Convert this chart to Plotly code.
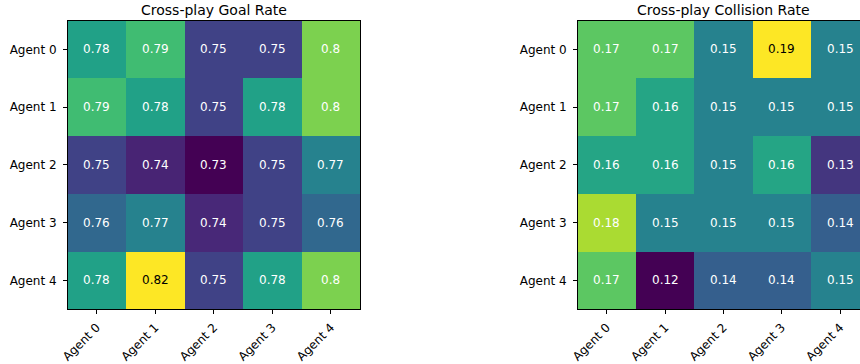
import plotly.graph_objects as go

agents = ["Agent 0", "Agent 1", "Agent 2", "Agent 3", "Agent 4"]

goal_rate = [
    [0.781, 0.792, 0.748, 0.748, 0.802],
    [0.792, 0.781, 0.748, 0.781, 0.802],
    [0.748, 0.739, 0.730, 0.748, 0.770],
    [0.760, 0.770, 0.740, 0.748, 0.760],
    [0.781, 0.820, 0.748, 0.781, 0.802],
]

collision_rate = [
    [0.172, 0.172, 0.151, 0.190, 0.151],
    [0.172, 0.161, 0.151, 0.151, 0.151],
    [0.161, 0.161, 0.151, 0.161, 0.131],
    [0.181, 0.151, 0.151, 0.151, 0.141],
    [0.172, 0.120, 0.141, 0.141, 0.151],
]

titles = ["Cross-play Goal Rate", "Cross-play Collision Rate"]

W, H = 860, 364
FONT = "DejaVu Sans"
TICK = 12
TITLE = 14

fig = go.Figure()

idx = list(range(len(agents)))
panels = [
    (goal_rate, "x", "y", [61 / W, 356 / W], [-0.5, 4.5], True),
    (collision_rate, "x2", "y2", [575.3 / W, 1.0], [-0.5, 4.5 - (869.3 - 860) / 58.8], False),
]
ydom = [1 - 315.3 / H, 1 - 21 / H]

for k, (z, xa, ya, xdom, xr, mir) in enumerate(panels):
    flat = [v for row in z for v in row]
    zmin, zmax = min(flat), max(flat)
    fig.add_trace(go.Heatmap(
        z=z, x=idx, y=idx, colorscale="Viridis", zmin=zmin, zmax=zmax,
        showscale=False, xaxis=xa, yaxis=ya, hoverinfo="z",
    ))
    for i, row in enumerate(z):
        for j, v in enumerate(row):
            frac = (v - zmin) / (zmax - zmin)
            fig.add_annotation(
                x=j, y=i, xref=xa, yref=ya, text=str(round(v, 2)), showarrow=False,
                font=dict(family=FONT, size=TICK, color="black" if frac > 0.9 else "white"),
            )
    axname = "xaxis" if k == 0 else "xaxis2"
    yname = "yaxis" if k == 0 else "yaxis2"
    fig.update_layout(**{
        axname: dict(
            domain=xdom, range=xr, anchor=ya, tickvals=idx, ticktext=agents,
            tickangle=-45, ticks="outside", ticklen=3.5, tickwidth=0.8, tickcolor="black",
            ticklabelstandoff=2,
            showline=True, linecolor="black", linewidth=1, mirror=True,
            showgrid=False, zeroline=False, tickfont=dict(family=FONT, size=TICK, color="black"),
        ),
        yname: dict(
            domain=ydom, range=[4.5, -0.5], anchor=xa, tickvals=idx, ticktext=agents,
            ticks="outside", ticklen=3.5, tickwidth=0.8, tickcolor="black",
            ticklabelstandoff=4,
            showline=True, linecolor="black", linewidth=1, mirror=mir,
            showgrid=False, zeroline=False, tickfont=dict(family=FONT, size=TICK, color="black"),
        ),
    })
    xc = (61 + 356) / 2 / W if k == 0 else (575.3 + 869.3) / 2 / W
    fig.add_annotation(
        x=xc, y=1 - 10 / H, xref="paper", yref="paper", text=titles[k], showarrow=False,
        xanchor="center", yanchor="middle", font=dict(family=FONT, size=TITLE, color="black"),
    )

fig.update_layout(
    width=W, height=H, margin=dict(l=0, r=0, t=0, b=0),
    paper_bgcolor="white", plot_bgcolor="white", showlegend=False,
)

fig.write_html("out.html")
